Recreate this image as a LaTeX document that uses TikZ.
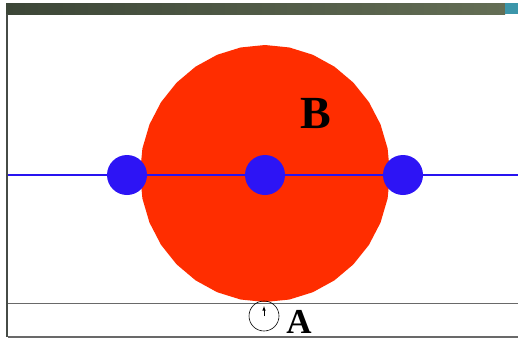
\documentclass[tikz,border=0pt]{standalone}
\usepackage{fontspec}
\setmainfont{Liberation Serif}
\definecolor{dotblue}{RGB}{45,20,245}
\definecolor{lineblue}{RGB}{40,20,240}
\definecolor{bigred}{RGB}{255,45,0}
\definecolor{framegray}{RGB}{105,105,105}
\definecolor{bordergray}{RGB}{70,75,70}
\definecolor{barL}{RGB}{60,70,55}
\definecolor{barR}{RGB}{100,110,85}
\definecolor{barteal}{RGB}{60,150,170}
\begin{document}
\begin{tikzpicture}[x=1pt,y=-1pt,
  dot/.style={circle,fill=dotblue,minimum size=40pt,inner sep=0pt},
  frameline/.style={draw=framegray,line width=1.8pt},
  lbl/.style={inner sep=0pt}]
\useasboundingbox (0,0) rectangle (518,340);
\fill[white] (0,0) rectangle (518,340);
% title bar
\shade[left color=barL,right color=barR] (6,3) rectangle (505,14);
\fill[barteal] (505,3) rectangle (518,14);
% left border
\draw[draw=bordergray,line width=2pt] (7,14) -- (7,337);
% big red polygon circle
\fill[bigred]
  plot[samples=33,domain=90:450,variable=\t] ({265+125*cos(\t)},{173.5-128.5*sin(\t)}) -- cycle;
% blue line
\draw[lineblue,line width=1.4pt] (8,175) -- (518,175);
\node[dot] (d1) at (127,175) {};
\node[dot] (d2) at (265,175) {};
\node[dot] (d3) at (403,175) {};
% B label
\node[lbl,font=\bfseries\fontsize{46}{46}\selectfont] (B) at (316,114) {B};
% bottom strip
\draw[frameline] (8,303.5) -- (518,303.5);
\draw[frameline] (8,337) -- (518,337);
\node[circle,draw=black,line width=0.6pt,minimum size=30pt,inner sep=0pt] (c) at (264,316) {};
\coordinate (ctop) at (264,306);
\draw[-latex,line width=0.6pt] (c.center) -- (ctop);
\node[lbl,font=\bfseries\fontsize{35}{35}\selectfont,anchor=base] (A) at (299,333) {A};
\end{tikzpicture}
\end{document}
